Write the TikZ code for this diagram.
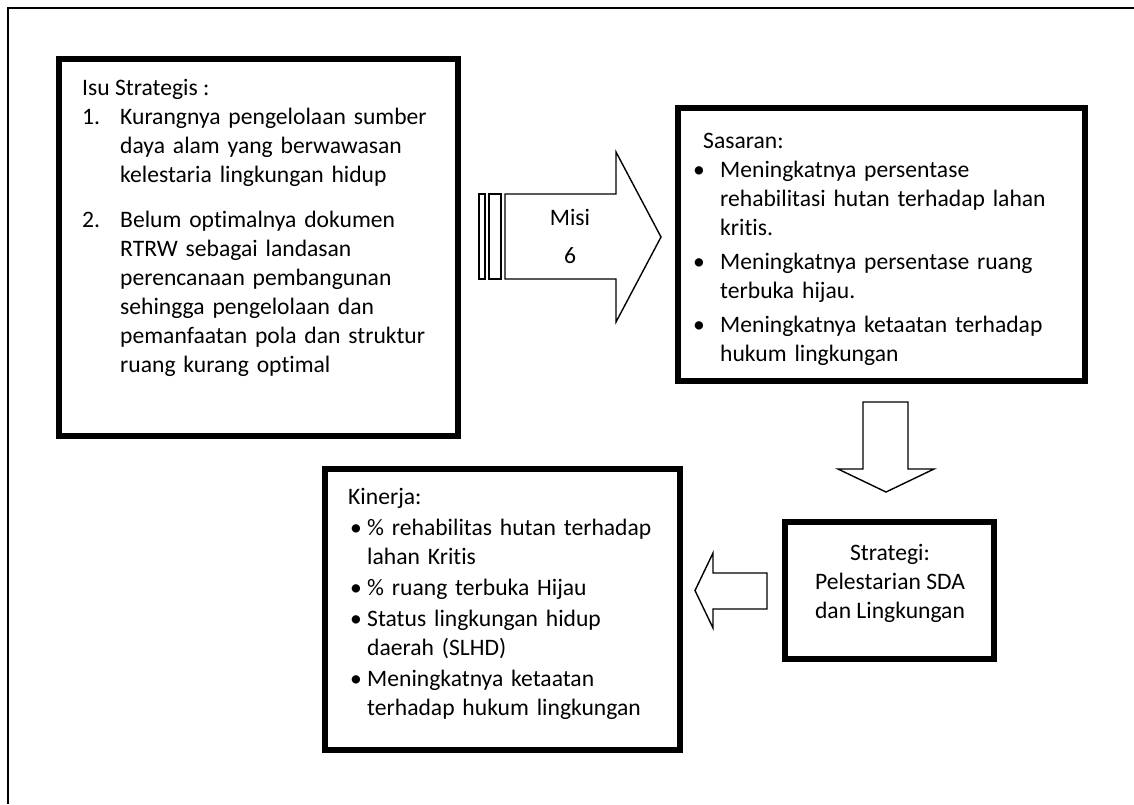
\documentclass[tikz,border=0pt]{standalone}
\usepackage{fontspec}
\setmainfont{Carlito}[Ligatures=NoCommon]
\newcommand{\myitem}[3]{\hangindent=#1\hangafter=1\noindent\makebox[#1][l]{#2}#3\par}
\begin{document}
\begin{tikzpicture}[x=1pt,y=-1pt,line join=miter]
\useasboundingbox (0,0) rectangle (1134,804);
\tikzset{
  thickbox/.style={draw, line width=6pt, inner sep=0pt, rectangle},
  blockarrow/.style={draw, line width=1.4pt, fill=white},
  txt/.style={inner sep=0pt, font=\fontsize{23.6}{29}\selectfont},
}
% outer frame (only top and left visible)
\draw[line width=2pt] (8,804) -- (8,8) -- (1134,8);

% boxes
\node[thickbox, minimum width=399pt, minimum height=377pt] (isu) at (258.5,247.5) {};
\node[thickbox, minimum width=407pt, minimum height=273pt] (sasaran) at (881.5,244.5) {};
\node[thickbox, minimum width=209pt, minimum height=137pt] (strategi) at (889.5,590.5) {};
\node[thickbox, minimum width=355pt, minimum height=281pt] (kinerja) at (502.5,609.5) {};

% box texts
\node[txt, anchor=base west] (isuhead) at (82,95) {Isu Strategis :};
\node[txt, anchor=base west, text width=370pt] (isutxt) at (82,124) {%
\myitem{38pt}{1.}{Kurangnya pengelolaan sumber\newline daya alam yang berwawasan\newline kelestaria lingkungan hidup}
\vspace{16pt}
\myitem{38pt}{2.}{Belum optimalnya dokumen\newline RTRW sebagai landasan\newline perencanaan pembangunan\newline sehingga pengelolaan dan\newline pemanfaatan pola dan struktur\newline ruang kurang optimal}};

\node[txt, anchor=base west] (sashead) at (703,148) {Sasaran:};
\node[txt, anchor=base west, text width=385pt] (sastxt) at (692,177) {%
\myitem{28pt}{\hspace*{1pt}•}{Meningkatnya persentase\newline rehabilitasi hutan terhadap lahan\newline kritis.}
\vspace{5pt}
\myitem{28pt}{\hspace*{1pt}•}{Meningkatnya persentase ruang\newline terbuka hijau.}
\vspace{5pt}
\myitem{28pt}{\hspace*{1pt}•}{Meningkatnya ketaatan terhadap\newline hukum lingkungan}};

\node[txt, anchor=base, align=center] (strtxt) at (890,618) {Strategi:\\Pelestarian SDA\\dan Lingkungan};

\node[txt, anchor=base west] (kinhead) at (348,504) {Kinerja:};
\node[txt, anchor=base west, text width=330pt] (kintxt) at (348,535) {%
\myitem{19pt}{\hspace*{2pt}•}{\% rehabilitas hutan terhadap\newline lahan Kritis}
\vspace{2pt}
\myitem{19pt}{\hspace*{2pt}•}{\% ruang terbuka Hijau}
\vspace{2pt}
\myitem{19pt}{\hspace*{2pt}•}{Status lingkungan hidup\newline daerah (SLHD)}
\vspace{2pt}
\myitem{19pt}{\hspace*{2pt}•}{Meningkatnya ketaatan\newline terhadap hukum lingkungan}};

% striped arrow: Misi 6
\draw[blockarrow] (479,194) rectangle (485,279);
\draw[blockarrow] (489,194) rectangle (501,279);
\draw[blockarrow] (505,194) -- (616,194) -- (616,152) -- (661,237) -- (616,322) -- (616,279) -- (505,279) -- cycle;
\node[txt, anchor=base, align=center, font=\fontsize{23.6}{38}\selectfont] (misi) at (570,263) {Misi\\6};

% down arrow
\draw[blockarrow] (863,402) -- (908,402) -- (908,469) -- (934,469) -- (886,492) -- (838,469) -- (863,469) -- cycle;

% left arrow
\draw[blockarrow] (767,573) -- (767,609) -- (713,609) -- (713,628) -- (695,590.5) -- (713,553) -- (713,573) -- cycle;
\end{tikzpicture}
\end{document}
